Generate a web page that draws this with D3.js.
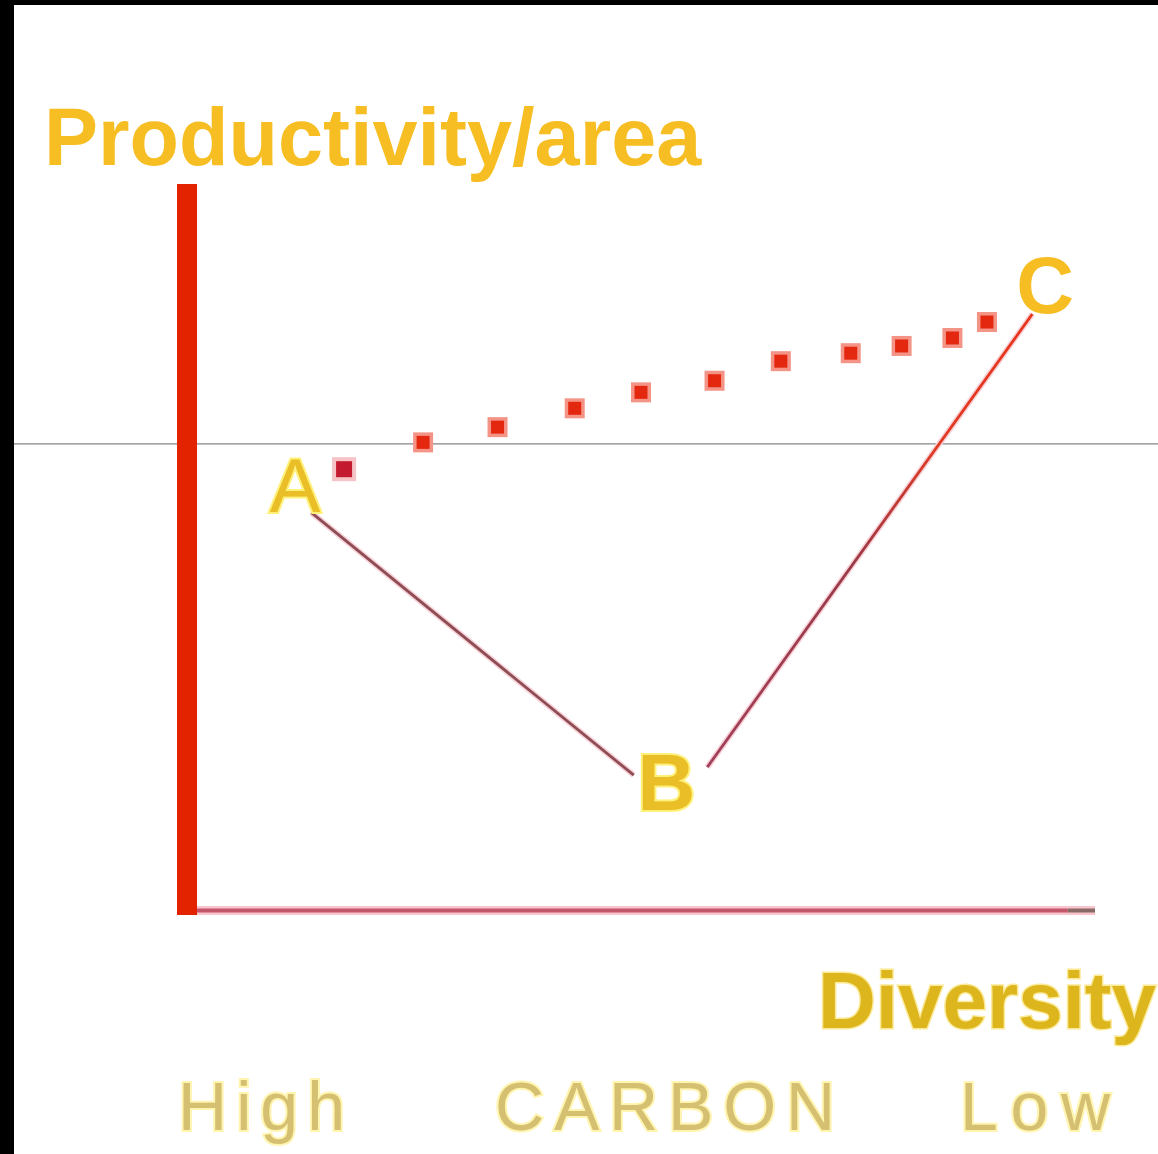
<!DOCTYPE html>
<html>
<head>
  <meta charset="utf-8" />
  <title>Productivity/area vs Diversity</title>
  <script src="https://cdnjs.cloudflare.com/ajax/libs/d3/7.8.5/d3.min.js"></script>
  <style>
    body { margin: 0; background: #fff; }
    svg { display: block; }
    text { font-family: "Liberation Sans", Arial, sans-serif; }
  </style>
</head>
<body>
  <div id="chart"></div>

  <script>
    // data (diversity 0-100 along x, productivity 0-100 along y)
    var dotX = [17.3, 26.0, 34.2, 42.7, 50.0, 58.1, 65.4, 73.1, 78.7, 84.3, 88.1];
    var dotY = [60.8, 64.5, 66.6, 69.2, 71.4, 73.0, 75.7, 76.8, 77.8, 78.9, 81.1];

    // solid path A -> B -> C, broken at B where the label sits
    var leftSegX = [13.7, 49.2], leftSegY = [54.8, 18.6];
    var rightSegX = [57.3, 93.1], rightSegY = [19.7, 82.2];

    var labelNames = ["A", "B", "C"];
    var labelX = [11.9, 52.8, 94.5];
    var labelY = [54.9, 13.8, 82.3];

    var refLevel = 64.3;
    var bottomWords = ["High", "CARBON", "Low"];

    var width = 1158, height = 1154;

    var svg = d3.select("#chart")
            .append("svg")
            .attr("width", width)
            .attr("height", height);

    var x = d3.scaleLinear().domain([0, 100]).range([187, 1095]);
    var y = d3.scaleLinear().domain([0, 100]).range([910, 185]);

    // black frame on top and left
    svg.append("rect").attr("x", 0).attr("y", 0).attr("width", width).attr("height", 5).attr("fill", "#000");
    svg.append("rect").attr("x", 0).attr("y", 0).attr("width", 14).attr("height", height).attr("fill", "#000");

    // title
    svg.append("text")
      .attr("x", 44)
      .attr("y", 165)
      .attr("font-size", 81)
      .attr("font-weight", "bold")
      .attr("fill", "#F7BE24")
      .text("Productivity/area");

    // gray reference line
    svg.append("line")
      .attr("x1", 14).attr("x2", width)
      .attr("y1", y(refLevel)).attr("y2", y(refLevel))
      .attr("stroke", "#858585")
      .attr("stroke-width", 1.2);

    // x axis (pink glow + core)
    svg.append("line")
      .attr("x1", x(0)).attr("x2", x(100))
      .attr("y1", y(0) + 0.5).attr("y2", y(0) + 0.5)
      .attr("stroke", "#F9C4CE")
      .attr("stroke-width", 9);
    svg.append("line")
      .attr("x1", x(0)).attr("x2", x(97))
      .attr("y1", y(0) + 0.5).attr("y2", y(0) + 0.5)
      .attr("stroke", "#C4566B")
      .attr("stroke-width", 4);
    svg.append("line")
      .attr("x1", x(97)).attr("x2", x(100))
      .attr("y1", y(0) + 0.5).attr("y2", y(0) + 0.5)
      .attr("stroke", "#8A6A66")
      .attr("stroke-width", 4);

    // y axis - thick red bar
    svg.append("rect")
      .attr("x", x(0) - 10)
      .attr("y", y(100) - 1)
      .attr("width", 20)
      .attr("height", y(0) - y(100) + 6)
      .attr("fill", "#E32200");

    // gradient for the rising segment
    var grad = svg.append("defs").append("linearGradient")
      .attr("id", "rise")
      .attr("gradientUnits", "userSpaceOnUse")
      .attr("x1", x(rightSegX[0])).attr("y1", y(rightSegY[0]))
      .attr("x2", x(rightSegX[1])).attr("y2", y(rightSegY[1]));
    grad.append("stop").attr("offset", "0%").attr("stop-color", "#A3405A");
    grad.append("stop").attr("offset", "45%").attr("stop-color", "#9A3A48");
    grad.append("stop").attr("offset", "70%").attr("stop-color", "#E03A24");
    grad.append("stop").attr("offset", "100%").attr("stop-color", "#E8341C");

    var segs = [
      { xs: leftSegX, ys: leftSegY, color: "#8E4C55" },
      { xs: rightSegX, ys: rightSegY, color: "url(#rise)" }
    ];

    svg.selectAll(".seg-glow")
      .data(segs)
      .enter().append("line")
      .attr("class", "seg-glow")
      .attr("x1", function(d) { return x(d.xs[0]); })
      .attr("y1", function(d) { return y(d.ys[0]); })
      .attr("x2", function(d) { return x(d.xs[1]); })
      .attr("y2", function(d) { return y(d.ys[1]); })
      .attr("stroke", "#F8D4DA")
      .attr("stroke-width", 6);

    svg.selectAll(".seg")
      .data(segs)
      .enter().append("line")
      .attr("class", "seg")
      .attr("x1", function(d) { return x(d.xs[0]); })
      .attr("y1", function(d) { return y(d.ys[0]); })
      .attr("x2", function(d) { return x(d.xs[1]); })
      .attr("y2", function(d) { return y(d.ys[1]); })
      .attr("stroke", function(d) { return d.color; })
      .attr("stroke-width", 2.8);

    // dotted square markers
    var dots = dotX.map(function(v, i) { return { x: v, y: dotY[i], i: i }; });

    svg.selectAll(".dot-halo")
      .data(dots)
      .enter().append("rect")
      .attr("class", "dot-halo")
      .attr("x", function(d) { return x(d.x) - (d.i == 0 ? 12 : 10); })
      .attr("y", function(d) { return y(d.y) - (d.i == 0 ? 12 : 10); })
      .attr("width", function(d) { return d.i == 0 ? 24 : 20; })
      .attr("height", function(d) { return d.i == 0 ? 24 : 20; })
      .attr("fill", function(d) { return d.i == 0 ? "#F6C4C6" : "#F39486"; });

    svg.selectAll(".dot")
      .data(dots)
      .enter().append("rect")
      .attr("class", "dot")
      .attr("x", function(d) { return x(d.x) - (d.i == 0 ? 8 : 6.5); })
      .attr("y", function(d) { return y(d.y) - (d.i == 0 ? 8 : 6.5); })
      .attr("width", function(d) { return d.i == 0 ? 16 : 13; })
      .attr("height", function(d) { return d.i == 0 ? 16 : 13; })
      .attr("fill", function(d) { return d.i == 0 ? "#C41A30" : "#E42810"; });

    // point labels
    var pts = labelNames.map(function(n, i) { return { name: n, x: labelX[i], y: labelY[i] }; });

    svg.selectAll(".pt-label")
      .data(pts)
      .enter().append("text")
      .attr("class", "pt-label")
      .attr("x", function(d) { return x(d.x); })
      .attr("y", function(d) { return y(d.y); })
      .attr("text-anchor", "middle")
      .attr("font-size", function(d) { return d.name == "A" ? 76 : 80; })
      .attr("font-weight", function(d) { return d.name == "A" ? "normal" : "bold"; })
      .attr("fill", function(d) { return d.name == "C" ? "#F7BE24" : "#E9BE26"; })
      .attr("stroke", function(d) { return d.name == "C" ? "none" : "#FFF07A"; })
      .attr("stroke-width", 4)
      .attr("paint-order", "stroke")
      .text(function(d) { return d.name; });

    // x axis title
    svg.append("text")
      .attr("x", width - 2)
      .attr("y", 1028)
      .attr("text-anchor", "end")
      .attr("font-size", 80)
      .attr("font-weight", "bold")
      .attr("fill", "#DDB51C")
      .attr("stroke", "#FBEA9A")
      .attr("stroke-width", 3)
      .attr("paint-order", "stroke")
      .text("Diversity");

    // faded row under the axis
    var wordX = [178, 495, 960];
    var wordW = [167, 340, 150];

    svg.selectAll(".word")
      .data(bottomWords)
      .enter().append("text")
      .attr("class", "word")
      .attr("x", function(d, i) { return wordX[i]; })
      .attr("y", 1130)
      .attr("font-size", 68)
      .attr("textLength", function(d, i) { return wordW[i]; })
      .attr("lengthAdjust", "spacing")
      .attr("fill", "#D4C070")
      .attr("stroke", "#FFF4B0")
      .attr("stroke-width", 4)
      .attr("paint-order", "stroke")
      .text(function(d) { return d; });
  </script>
</body>
</html>
